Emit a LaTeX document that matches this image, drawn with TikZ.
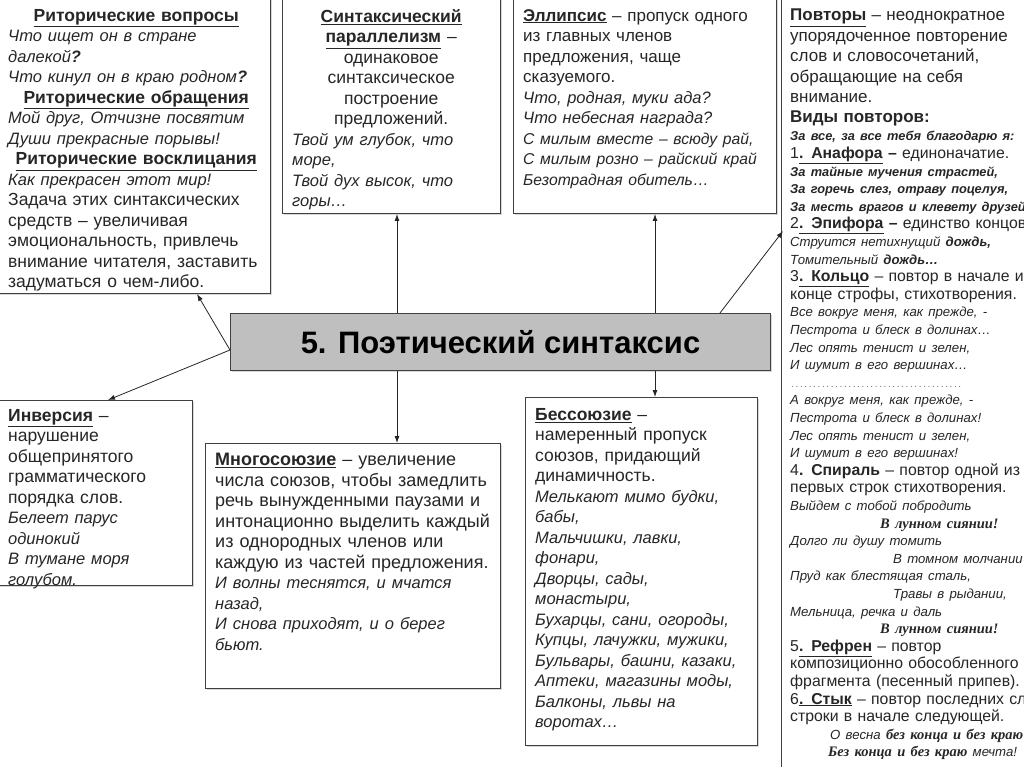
\documentclass[tikz,border=0pt]{standalone}
\usepackage{fontspec}
\setmainfont{Liberation Sans}
\newfontfamily\timesf{Liberation Serif}
\usetikzlibrary{positioning,arrows.meta,shadows}

\newcommand{\term}[1]{\underline{\textbf{#1}}}
\newcommand{\ctr}[1]{\makebox[\hsize]{#1}}
\newcommand{\ita}[1]{{\fontsize{16.5}{20.5}\selectfont\itshape #1}}
\newcommand{\lead}[1]{{\fontsize{17}{17.6}\selectfont #1}}
\newcommand{\exi}[1]{{\fontsize{13.2}{17.6}\selectfont\itshape #1}}
\newcommand{\exb}[1]{{\fontsize{12.8}{17.6}\selectfont\bfseries\itshape #1}}
\newcommand{\exs}[1]{{\timesf\fontsize{14.5}{17.6}\selectfont\bfseries\itshape #1}}

\tikzset{
	box/.style={draw=black!75, line width=1pt, fill=white, anchor=north west, inner sep=0pt, drop shadow={shadow xshift=1.5pt, shadow yshift=-1.5pt, opacity=0.3}},
	txt/.style={anchor=north west, inner sep=0pt, align=left, text=black!85, font=\fontsize{17.5}{20.5}\selectfont},
	arr/.style={-{Latex[length=7pt,width=5pt]}, line width=0.8pt, draw=black!85},
}

\begin{document}
\begin{tikzpicture}[x=1pt, y=-1pt]
		\clip (0,0) rectangle (1024,767);
		\fill[white] (0,0) rectangle (1024,767);

		\node[box, minimum width=275pt, minimum height=298pt] (ritor) at (-5,-5) {};
		\node[box, minimum width=218pt, minimum height=218pt] (parall) at (282,-5) {};
		\node[box, minimum width=263pt, minimum height=218pt] (ellips) at (513,-5) {};
		\node[box, minimum width=260pt, minimum height=790pt] (povt) at (781,-5) {};
		\node[box, minimum width=197pt, minimum height=185pt] (inv) at (-5,400) {};
		\node[box, minimum width=295pt, minimum height=245pt] (mnogo) at (205,443) {};
		\node[box, minimum width=232pt, minimum height=348pt] (bess) at (525,397) {};
		\node[box, fill=black!25, minimum width=540pt, minimum height=57pt, font=\fontsize{31}{33}\selectfont\bfseries] (title) at (230,313) {5. Поэтический синтаксис};

		\node[txt, text width=256pt] (ritor-txt) at (8,9) {
			\ctr{\term{Риторические вопросы}}\\
			\ita{Что ищет он в стране}\\
			\ita{далекой\textbf{?}}\\
			\ita{Что кинул он в краю родном\textbf{?}}\\
			\ctr{\term{Риторические обращения}}\\
			\ita{Мой друг, Отчизне посвятим}\\
			\ita{Души прекрасные порывы!}\\
			\ctr{\term{Риторические восклицания}}\\
			\ita{Как прекрасен этот мир!}\\
			Задача этих синтаксических\\
			средств – увеличивая\\
			эмоциональность, привлечь\\
			внимание читателя, заставить\\
			задуматься о чем-либо.};

		\node[txt, text width=198pt] (parall-txt) at (292,9) {
			\ctr{\term{Синтаксический}}\\
			\ctr{\term{параллелизм} –}\\
			\ctr{одинаковое}\\
			\ctr{синтаксическое}\\
			\ctr{построение}\\
			\ctr{предложений.}\\
			\ita{Твой ум глубок, что}\\
			\ita{море,}\\
			\ita{Твой дух высок, что}\\
			\ita{горы…}};

		\node[txt, text width=250pt, font=\fontsize{17}{20.5}\selectfont] (ellips-txt) at (523,9) {
			\term{Эллипсис} – пропуск одного\\
			из главных членов\\
			предложения, чаще\\
			сказуемого.\\
			\ita{Что, родная, муки ада?}\\
			\ita{Что небесная награда?}\\
			{\fontsize{15.7}{20.5}\selectfont\itshape С милым вместе – всюду рай,}\\
			{\fontsize{15.7}{20.5}\selectfont\itshape С милым розно – райский край}\\
			{\fontsize{15.7}{20.5}\selectfont\itshape Безотрадная обитель…}};

		\node[txt, text width=300pt, font=\fontsize{15.8}{17.6}\selectfont] (povt-txt) at (790,9) {
			\lead{\term{Повторы} – неоднократное}\\[2.8pt]
			\lead{упорядоченное повторение}\\[2.8pt]
			\lead{слов и словосочетаний,}\\[2.8pt]
			\lead{обращающие на себя}\\[2.8pt]
			\lead{внимание.}\\[2.8pt]
			{\fontsize{17}{17.6}\selectfont\bfseries Виды повторов:}\\[0.4pt]
			\exb{За все, за все тебя благодарю я:}\\
			1\term{. Анафора} \textbf{–} единоначатие.\\
			\exb{За тайные мучения страстей,}\\
			\exb{За горечь слез, отраву поцелуя,}\\
			\exb{За месть врагов и клевету друзей}\\
			2\term{. Эпифора} \textbf{–} единство концовок\\
			\exi{Струится нетихнущий \textbf{дождь,}}\\
			\exi{Томительный \textbf{дождь…}}\\
			3\term{. Кольцо} – повтор в начале и в\\
			конце строфы, стихотворения.\\
			\exi{Все вокруг меня, как прежде, -}\\
			\exi{Пестрота и блеск в долинах…}\\
			\exi{Лес опять тенист и зелен,}\\
			\exi{И шумит в его вершинах…}\\
			{\color{black!55}\fontsize{10}{17.6}\selectfont\makebox[172pt]{\dotfill}}\\
			\exi{А вокруг меня, как прежде, -}\\
			\exi{Пестрота и блеск в долинах!}\\
			\exi{Лес опять тенист и зелен,}\\
			\exi{И шумит в его вершинах!}\\
			4\textbf{. Спираль} – повтор одной из\\
			первых строк стихотворения.\\
			\exi{Выйдем с тобой побродить}\\
			\hspace*{90pt}\exs{В лунном сиянии!}\\
			\exi{Долго ли душу томить}\\
			\hspace*{103pt}\exi{В томном молчании}\\
			\exi{Пруд как блестящая сталь,}\\
			\hspace*{103pt}\exi{Травы в рыдании,}\\
			\exi{Мельница, речка и даль}\\
			\hspace*{90pt}\exs{В лунном сиянии!}\\
			5\term{. Рефрен} – повтор\\
			композиционно обособленного\\
			фрагмента (песенный припев).\\
			6\term{. Стык} – повтор последних слов\\
			строки в начале следующей.\\
			\hspace*{40pt}\exi{О весна} \exs{без конца и без краю}\\
			\hspace*{38pt}\exs{Без конца и без краю} \exi{мечта!}};

		\node[txt, text width=182pt] (inv-txt) at (8,409) {
			\term{Инверсия} –\\
			нарушение\\
			общепринятого\\
			грамматического\\
			порядка слов.\\
			\ita{Белеет парус}\\
			\ita{одинокий}\\
			\ita{В тумане моря}\\
			\ita{голубом.}};

		\node[txt, text width=285pt, font=\fontsize{18}{20.5}\selectfont] (mnogo-txt) at (215,453) {
			\term{Многосоюзие} – увеличение\\
			числа союзов, чтобы замедлить\\
			речь вынужденными паузами и\\
			интонационно выделить каждый\\
			из однородных членов или\\
			каждую из частей предложения.\\
			\ita{И волны теснятся, и мчатся}\\
			\ita{назад,}\\
			\ita{И снова приходят, и о берег}\\
			\ita{бьют.}};

		\node[txt, text width=218pt] (bess-txt) at (535,408) {
			\term{Бессоюзие} –\\
			намеренный пропуск\\
			союзов, придающий\\
			динамичность.\\
			\ita{Мелькают мимо будки,}\\
			\ita{бабы,}\\
			\ita{Мальчишки, лавки,}\\
			\ita{фонари,}\\
			\ita{Дворцы, сады,}\\
			\ita{монастыри,}\\
			\ita{Бухарцы, сани, огороды,}\\
			\ita{Купцы, лачужки, мужики,}\\
			\ita{Бульвары, башни, казаки,}\\
			\ita{Аптеки, магазины моды,}\\
			\ita{Балконы, львы на}\\
			\ita{воротах…}};

		\coordinate (lx) at (397,0);
		\coordinate (rx) at (655,0);
		\coordinate (sx) at (720,0);
		\coordinate (lt) at (197,0);
		\coordinate (ix) at (108,0);
		\coordinate (lm) at (0,350);
		\coordinate (povt-in) at (783,231);

		\draw[arr] (title.north -| lx) -- (parall.south -| lx);
		\draw[arr] (title.north -| rx) -- (ellips.south -| rx);
		\draw[arr] (title.south -| lx) -- (mnogo.north -| lx);
		\draw[arr] (title.south -| rx) -- (bess.north -| rx);
		\draw[arr] (title.north -| sx) -- (povt-in);
		\draw[arr] (title.west |- lm) -- (ritor.south -| lt);
		\draw[arr] (title.west |- lm) -- (inv.north -| ix);
\end{tikzpicture}
\end{document}
